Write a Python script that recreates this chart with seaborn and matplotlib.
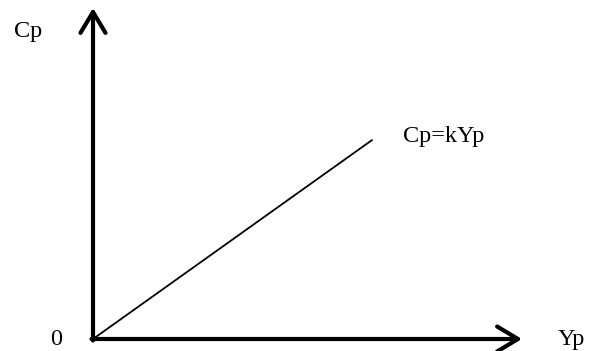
"""
Consumption function diagram: Cp = k * Yp
"""

import matplotlib
matplotlib.use("Agg")
import matplotlib.pyplot as plt
import seaborn as sns
import numpy as np
import pandas as pd

# data (units: 1 = 100 px of the reference)
k = 0.713
yp = np.array([0.0, 2.79])
cp = k * yp
x_axis_end = 4.29
y_axis_end = 3.31

labels = ["Cp", "0", "Yp", "Cp=kYp"]

sns.set_theme(style="white")
plt.rcParams['font.family'] = ['Liberation Serif', 'DejaVu Serif']
plt.rcParams['text.color'] = 'black'

fig = plt.figure(figsize=(5.89, 3.51), dpi=100)
ax = fig.add_axes([0, 0, 1, 1])
ax.set_xlim(-0.93, 4.96)
ax.set_ylim(-0.12, 3.39)
ax.axis('off')

df = pd.DataFrame({'Yp': yp, 'Cp': cp})
sns.lineplot(data=df, x='Yp', y='Cp', color='black', linewidth=1.3, ax=ax)

arrow = dict(arrowstyle='->,head_length=0.75,head_width=0.45', lw=3,
             color='black', shrinkA=0, shrinkB=0, mutation_scale=20)
ax.annotate('', xy=(x_axis_end, 0), xytext=(-0.015, 0), arrowprops=arrow)
ax.annotate('', xy=(0, y_axis_end), xytext=(0, -0.015), arrowprops=arrow)

fs = 17.5
ax.text(-0.79, 3.02, labels[0], fontsize=fs, ha='left', va='baseline', color='black')
ax.text(-0.43, -0.06, labels[1], fontsize=fs, ha='left', va='baseline', color='black')
ax.text(4.65, -0.06, labels[2], fontsize=fs, ha='left', va='baseline', color='black')
ax.text(3.10, 1.97, labels[3], fontsize=fs, ha='left', va='baseline', color='black')

plt.savefig('out.png', dpi=100)
